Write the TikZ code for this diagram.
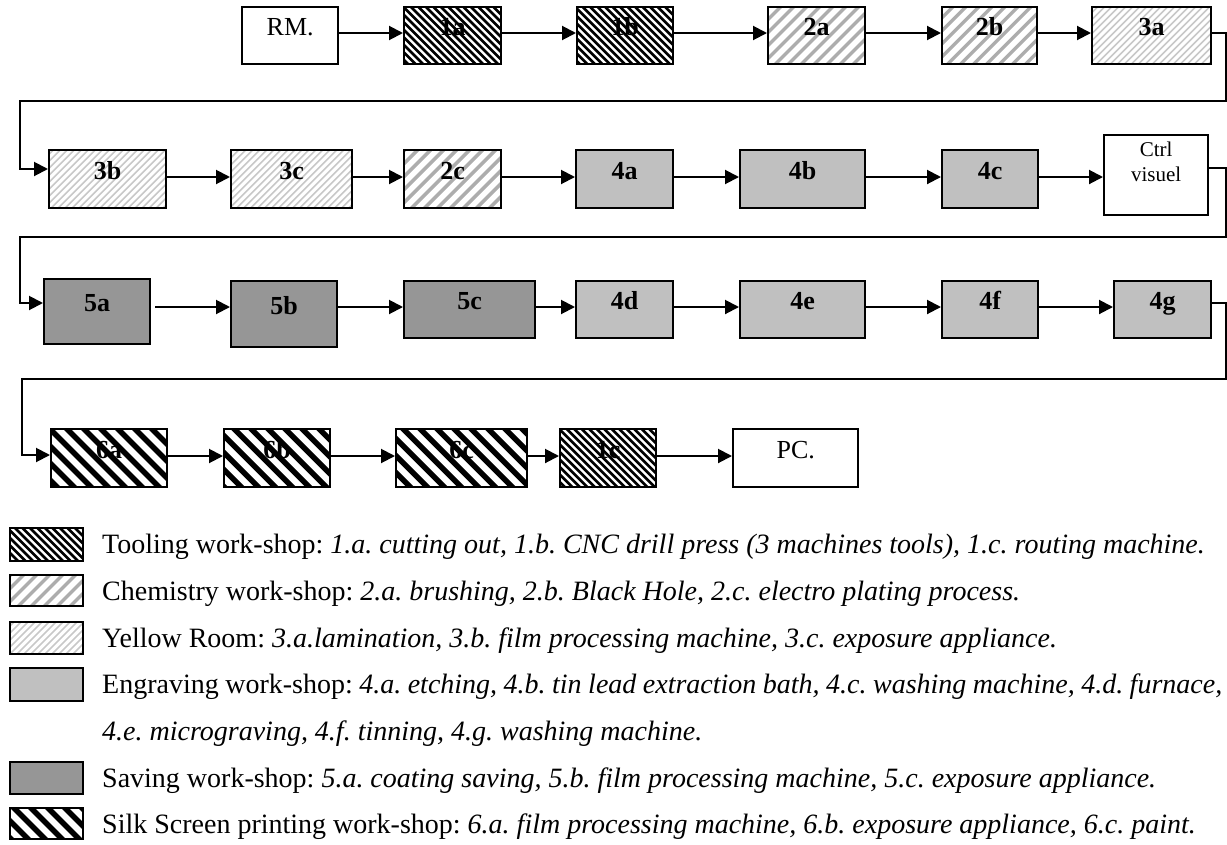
\documentclass[tikz,border=0pt]{standalone}
\usepackage{fontspec}
\setmainfont{Liberation Serif}
\usetikzlibrary{arrows.meta,calc}
\definecolor{engr}{HTML}{C0C0C0}
\definecolor{savg}{HTML}{969696}
\definecolor{chemc}{HTML}{ADADAD}
\definecolor{yelc}{HTML}{C8C8C8}
\newcommand\bx[7]{\node[box,#1,minimum width={#5-#3},minimum height={#6-#4}] (#2) at (#3,#4) {#7};}
\begin{document}
\frenchspacing
\begin{tikzpicture}[x=1pt,y=-1pt,
  box/.style={draw=black, line width=2.4pt, inner sep=0pt, anchor=north west,
    text height=0pt, text depth=0pt, font=\fontsize{26}{30}\selectfont\bfseries},
  plain/.style={font=\fontsize{26}{30}\selectfont},
  arr/.style={draw=black, line width=2pt, -{Triangle[length=14pt,width=14pt]}},
  toolhatch/.style={path picture={\begin{scope}[shift={(path picture bounding box.center)}]
    \foreach \i in {-25,...,25}{\draw[line width=2.7pt,black] (\i*7.5-90,-90) -- (\i*7.5+90,90);}\end{scope}}},
  silkhatch/.style={path picture={\begin{scope}[shift={(path picture bounding box.center)}]
    \foreach \i in {-12,...,12}{\draw[line width=5.5pt,black] (\i*17-90,-90) -- (\i*17+90,90);}\end{scope}}},
  chemhatch/.style={path picture={\begin{scope}[shift={(path picture bounding box.center)}]
    \foreach \i in {-16,...,16}{\draw[line width=3.4pt,chemc] (\i*13-90,90) -- (\i*13+90,-90);}\end{scope}}},
  yelhatch/.style={path picture={\begin{scope}[shift={(path picture bounding box.center)}]
    \foreach \i in {-30,...,30}{\draw[line width=1.6pt,yelc] (\i*7-90,90) -- (\i*7+90,-90);}\end{scope}}},
  engraving/.style={fill=engr},
  saving/.style={fill=savg},
  legtext/.style={anchor=base west, inner sep=0pt, font=\fontsize{28}{32}\selectfont\frenchspacing}
]
\useasboundingbox (0,0) rectangle (1227,844);

% row 1
\bx{plain}{RM}{241}{6}{337}{63}{RM.}
\bx{toolhatch}{t1a}{403}{6}{500}{63}{1a}
\bx{toolhatch}{t1b}{576}{6}{672}{63}{1b}
\bx{chemhatch}{t2a}{767}{6}{864}{63}{2a}
\bx{chemhatch}{t2b}{941}{6}{1036}{63}{2b}
\bx{yelhatch}{t3a}{1091}{6}{1210}{63}{3a}
% row 2
\bx{yelhatch}{t3b}{48}{149}{165}{207}{3b}
\bx{yelhatch}{t3c}{230}{149}{351}{207}{3c}
\bx{chemhatch}{t2c}{403}{149}{500}{207}{2c}
\bx{engraving}{t4a}{575}{149}{672}{207}{4a}
\bx{engraving}{t4b}{739}{149}{864}{207}{4b}
\bx{engraving}{t4c}{941}{149}{1037}{207}{4c}
\node[box,minimum width={1207-1103},minimum height={214-134},font=\fontsize{21}{25}\selectfont] (ctrl) at (1103,134)
  {\raisebox{-6pt}{\begin{tabular}[b]{@{}c@{}}Ctrl\\visuel\end{tabular}}};
% row 3
\bx{saving}{t5a}{43}{278}{149}{343}{5a}
\bx{saving}{t5b}{230}{280}{336}{346}{5b}
\bx{saving}{t5c}{403}{280}{534}{337}{5c}
\bx{engraving}{t4d}{575}{280}{672}{337}{4d}
\bx{engraving}{t4e}{739}{280}{864}{337}{4e}
\bx{engraving}{t4f}{941}{280}{1037}{337}{4f}
\bx{engraving}{t4g}{1113}{280}{1210}{337}{4g}
% row 4
\bx{silkhatch}{t6a}{50}{428}{166}{486}{6a}
\bx{silkhatch}{t6b}{223}{428}{329}{486}{6b}
\bx{silkhatch}{t6c}{395}{428}{526}{486}{6c}
\bx{toolhatch}{t1c}{559}{428}{655}{486}{1c}
\bx{plain}{PC}{732}{428}{857}{486}{PC.}

% row levels
\coordinate (y1) at (0,33);
\coordinate (y2) at (0,177);
\coordinate (y3) at (0,307);
\coordinate (y4) at (0,456);
\coordinate (e2) at (0,169);
\coordinate (x2) at (0,168);
\coordinate (e3) at (0,303);
\coordinate (e4) at (0,455);
\coordinate (r1) at (1225.5,101);
\coordinate (l1) at (20,101);
\coordinate (r2) at (1225.5,237);
\coordinate (l2) at (20,237);
\coordinate (r3) at (1225.5,379);
\coordinate (l3) at (22,379);

% row 1 arrows
\draw[arr] (RM.east |- y1) -- (t1a.west |- y1);
\draw[arr] (t1a.east |- y1) -- (t1b.west |- y1);
\draw[arr] (t1b.east |- y1) -- (t2a.west |- y1);
\draw[arr] (t2a.east |- y1) -- (t2b.west |- y1);
\draw[arr] (t2b.east |- y1) -- (t3a.west |- y1);
\draw[arr] (t3a.east |- y1) -| (r1) -- (l1) |- (t3b.west |- e2);
% row 2 arrows
\draw[arr] (t3b.east |- y2) -- (t3c.west |- y2);
\draw[arr] (t3c.east |- y2) -- (t2c.west |- y2);
\draw[arr] (t2c.east |- y2) -- (t4a.west |- y2);
\draw[arr] (t4a.east |- y2) -- (t4b.west |- y2);
\draw[arr] (t4b.east |- y2) -- (t4c.west |- y2);
\draw[arr] (t4c.east |- y2) -- (ctrl.west |- y2);
\draw[arr] (ctrl.east |- x2) -| (r2) -- (l2) |- (t5a.west |- e3);
% row 3 arrows
\draw[arr,shorten <=4pt] (t5a.east |- y3) -- (t5b.west |- y3);
\draw[arr] (t5b.east |- y3) -- (t5c.west |- y3);
\draw[arr] (t5c.east |- y3) -- (t4d.west |- y3);
\draw[arr] (t4d.east |- y3) -- (t4e.west |- y3);
\draw[arr] (t4e.east |- y3) -- (t4f.west |- y3);
\draw[arr] (t4f.east |- y3) -- (t4g.west |- y3);
\draw[arr] (t4g.east |- e3) -| (r3) -- (l3) |- (t6a.west |- e4);
% row 4 arrows
\draw[arr] (t6a.east |- y4) -- (t6b.west |- y4);
\draw[arr] (t6b.east |- y4) -- (t6c.west |- y4);
\draw[arr] (t6c.east |- y4) -- (t1c.west |- y4);
\draw[arr] (t1c.east |- y4) -- (PC.west |- y4);

% legend
\bx{toolhatch}{sw1}{9}{527}{82}{560}{}
\bx{chemhatch}{sw2}{9}{574}{82}{605}{}
\bx{yelhatch}{sw3}{9}{621}{82}{653}{}
\bx{engraving}{sw4}{9}{667}{82}{700}{}
\bx{saving}{sw5}{9}{761}{82}{793}{}
\bx{silkhatch}{sw6}{9}{807}{82}{838}{}

\node[legtext] (lg1) at (102,553) {Tooling work-shop: \textit{1.a. cutting out, 1.b. CNC drill press (3 machines tools), 1.c. routing machine.}};
\node[legtext] (lg2) at (102,600) {Chemistry work-shop: \textit{2.a. brushing, 2.b. Black Hole, 2.c. electro plating process.}};
\node[legtext] (lg3) at (102,647) {Yellow Room: \textit{3.a.lamination, 3.b. film processing machine, 3.c. exposure appliance.}};
\node[legtext] (lg4) at (102,693) {\makebox[1120pt][s]{Engraving work-shop: \textit{4.a. etching, 4.b. tin lead extraction bath, 4.c. washing machine, 4.d. furnace,}}};
\node[legtext] (lg5) at (102,740) {\textit{4.e. micrograving, 4.f. tinning, 4.g. washing machine.}};
\node[legtext] (lg6) at (102,787) {Saving work-shop: \textit{5.a. coating saving, 5.b. film processing machine, 5.c. exposure appliance.}};
\node[legtext] (lg7) at (102,833) {Silk Screen printing work-shop: \textit{6.a. film processing machine, 6.b. exposure appliance, 6.c. paint.}};
\end{tikzpicture}
\end{document}
